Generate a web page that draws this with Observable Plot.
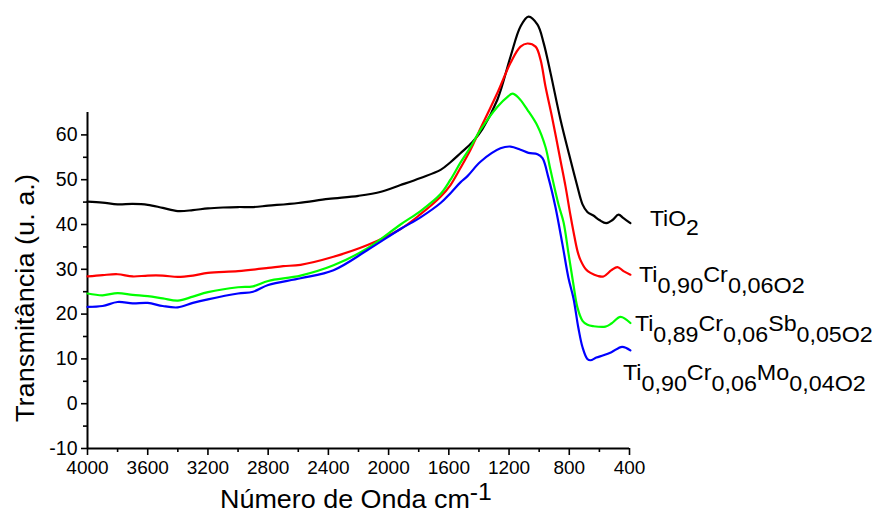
<!DOCTYPE html>
<html>
<head>
<meta charset="utf-8">
<script src="https://cdn.jsdelivr.net/npm/d3@7"></script>
<script src="https://cdn.jsdelivr.net/npm/@observablehq/plot@0.6"></script>
<style>
  html, body { margin: 0; padding: 0; background: #fff; }
  #chart { width: 877px; height: 514px; }
</style>
</head>
<body>
<div id="chart"></div>
<script>
// ---- Data (wavenumber cm-1, transmittance u.a.) ----
const tio2 = [[4000,45.1],[3900,44.9],[3800,44.5],[3700,44.6],[3600,44.4],[3500,43.7],[3400,43.0],[3300,43.2],[3200,43.6],[3100,43.8],[3000,43.9],[2900,43.9],[2800,44.2],[2600,44.8],[2400,45.7],[2200,46.4],[2050,47.3],[1921,48.8],[1788,50.4],[1655,52.2],[1589,53.9],[1523,55.9],[1443,58.4],[1377,61.3],[1277,67.9],[1190,77.5],[1124,84.2],[1071,86.4],[1011,84.6],[971,80.6],[925,73.9],[859,63.5],[800,55.5],[750,49.0],[712,44.5],[680,42.8],[640,42.0],[600,41.0],[555,40.3],[513,41.0],[473,42.2],[440,41.4],[394,40.3]];
const crTi = [[4000,28.4],[3900,28.7],[3800,28.9],[3700,28.4],[3600,28.6],[3500,28.6],[3400,28.3],[3300,28.6],[3200,29.2],[3000,29.6],[2800,30.3],[2700,30.7],[2585,31.0],[2366,32.8],[2140,35.4],[1921,39.0],[1788,42.3],[1655,46.2],[1589,48.8],[1523,52.6],[1456,56.7],[1403,60.5],[1277,69.4],[1190,76.1],[1124,79.7],[1078,80.4],[1024,79.7],[991,76.8],[958,70.8],[911,63.4],[859,54.4],[825,48.5],[792,42.0],[772,38.4],[745,34.0],[726,32.1],[690,30.0],[659,29.2],[610,28.5],[573,28.4],[520,29.8],[480,30.5],[440,29.6],[394,28.8]];
const crSbTi = [[4000,24.6],[3900,24.2],[3800,24.7],[3700,24.3],[3600,24.0],[3500,23.5],[3400,23.0],[3300,23.9],[3200,24.9],[3000,26.0],[2900,26.2],[2800,27.4],[2585,28.6],[2366,30.9],[2140,34.7],[1921,40.0],[1788,43.0],[1655,46.8],[1589,50.0],[1523,53.8],[1456,57.3],[1390,61.1],[1277,66.3],[1210,68.5],[1177,69.2],[1137,68.3],[1078,65.6],[1011,62.0],[958,57.3],[925,52.2],[872,44.5],[838,40.5],[805,33.5],[772,26.5],[746,21.5],[712,18.5],[679,17.6],[640,17.3],[560,17.2],[520,17.9],[460,19.4],[394,18.0]];
const crMoTi = [[4000,21.6],[3900,21.8],[3800,22.7],[3700,22.4],[3600,22.5],[3500,21.8],[3400,21.5],[3300,22.5],[3200,23.3],[3000,24.6],[2900,25.0],[2800,26.5],[2585,28.0],[2366,29.8],[2140,34.3],[1921,39.0],[1788,41.6],[1655,44.8],[1589,47.0],[1523,49.4],[1476,50.8],[1390,54.0],[1257,57.0],[1190,57.4],[1124,56.7],[1071,56.0],[1011,55.7],[978,54.8],[938,50.4],[892,43.9],[845,35.5],[805,28.0],[772,23.5],[740,17.0],[712,12.6],[680,10.0],[659,9.7],[620,10.3],[573,10.8],[520,11.5],[449,12.7],[394,11.9]];

const seriesNames = ["TiO2", "Ti0,90Cr0,06O2", "Ti0,89Cr0,06Sb0,05O2", "Ti0,90Cr0,06Mo0,04O2"];
const seriesValues = [tio2, crTi, crSbTi, crMoTi];
const seriesColors = ["#000000", "#ff0000", "#00ff00", "#0000ff"];

// Label text pieces: [text, isSubscript]
const labelParts = [
  [["Ti",0],["O",0],["2",1]],
  [["Ti",0],["0,90",1],["Cr",0],["0,06",1],["O",1],["2",1]],
  [["Ti",0],["0,89",1],["Cr",0],["0,06",1],["Sb",0],["0,05",1],["O",1],["2",1]],
  [["Ti",0],["0,90",1],["Cr",0],["0,06",1],["Mo",0],["0,04",1],["O",1],["2",1]]
];

const wavenumberTicks = [4000,3600,3200,2800,2400,2000,1600,1200,800,400];
const minorWavenumberTicks = [3800,3400,3000,2600,2200,1800,1400,1000,600];
const transmittanceTicks = [-10,0,10,20,30,40,50,60];
const minorTransmittanceTicks = [-5,5,15,25,35,45,55];

const xTitle = "Número de Onda cm";
const xTitleSup = "-1";
const yTitle = "Transmitância (u. a.)";

// ---- Build table ----
const table = seriesNames.flatMap((name, i) =>
  seriesValues[i].map(([wn, t]) => ({series: name, wn, t}))
);

const font = "'Liberation Sans', Arial, Helvetica, sans-serif";

const chart = Plot.plot({
  width: 877,
  height: 514,
  marginLeft: 87,
  marginRight: 248,
  marginTop: 112,
  marginBottom: 66,
  style: {fontFamily: font, fontSize: "19px", color: "#000", background: "#fff", overflow: "visible"},
  x: {domain: [4000, 400], label: null},
  y: {domain: [-10, 65], label: null},
  color: {domain: seriesNames, range: seriesColors},
  marks: [
    Plot.axisX({ticks: wavenumberTicks, tickSize: 7, tickPadding: 5, strokeWidth: 1.6, tickFormat: d => String(d), fontSize: 19}),
    Plot.axisX({ticks: minorWavenumberTicks, tickSize: 4, strokeWidth: 1.6, tickFormat: null, text: null}),
    Plot.axisY({ticks: transmittanceTicks, tickSize: 6, tickPadding: 4, strokeWidth: 1.6, tickFormat: d => String(d), fontSize: 19.5}),
    Plot.axisY({ticks: minorTransmittanceTicks, tickSize: 4, strokeWidth: 1.6, tickFormat: null, text: null}),
    Plot.ruleY([-10], {x1: 4000, x2: 400, stroke: "#000", strokeWidth: 2}),
    Plot.ruleX([4000], {y1: -10, y2: 65, stroke: "#000", strokeWidth: 2}),
    Plot.line(table, {x: "wn", y: "t", z: "series", stroke: "series", strokeWidth: 2.2, curve: "catmull-rom"})
  ]
});

document.getElementById("chart").appendChild(chart);

// ---- Annotations placed via the plot's scales ----
const sx = chart.scale("x");
const sy = chart.scale("y");
const svg = d3.select(chart);

// stretch a text horizontally to a target width
function fitWidth(sel, x, y, target, rotate) {
  const w = sel.node().getComputedTextLength();
  const k = target / w;
  sel.attr("transform", rotate
    ? `translate(${x},${y}) rotate(-90) scale(${k},1)`
    : `translate(${x},${y}) scale(${k},1)`);
}

const labelOffsets = [[20, 3.5, 9], [9, 7.5, 11], [5, 8, 11], [-7, 30, 11]]; // dx, dy, subscript shift
const labelWidths = [49, 166, 238, 243];

seriesValues.forEach((vals, i) => {
  const [wn, t] = vals[vals.length - 1];
  const [dx, dy, sub] = labelOffsets[i];
  const x0 = sx.apply(wn) + dx;
  const y0 = sy.apply(t) + dy;
  const txt = svg.append("text")
    .attr("text-anchor", "start")
    .attr("font-family", font).attr("font-size", 21.5).attr("fill", "#000");
  let cur = 0;
  labelParts[i].forEach(([s, isSub]) => {
    const target = isSub ? sub : 0;
    txt.append("tspan").attr("dy", target - cur).text(s);
    cur = target;
  });
  fitWidth(txt, x0, y0, labelWidths[i], false);
});

// x title
const xt = svg.append("text")
  .attr("text-anchor", "start")
  .attr("font-family", font).attr("font-size", 25).attr("fill", "#000");
xt.append("tspan").text(xTitle);
xt.append("tspan").attr("dy", -8).attr("font-size", 23).text(xTitleSup);
fitWidth(xt, 220, 508, 272, false);

// y title
const yt = svg.append("text")
  .attr("text-anchor", "start")
  .attr("font-family", font).attr("font-size", 25).attr("fill", "#000")
  .text(yTitle);
fitWidth(yt, 34, 422, 248, true);
</script>
</body>
</html>
